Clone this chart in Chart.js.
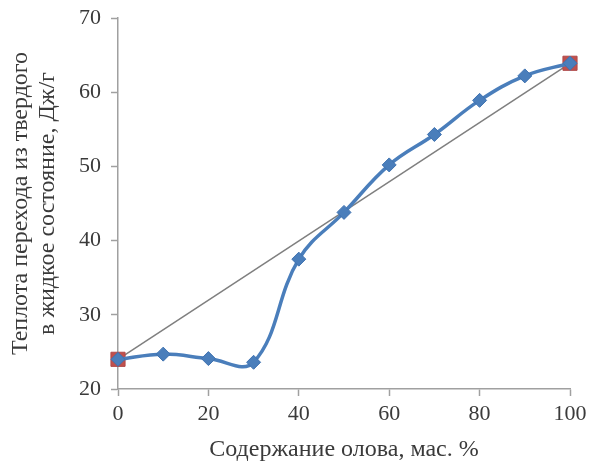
<!DOCTYPE html>
<html><head><meta charset="utf-8">
<script src="https://cdn.jsdelivr.net/npm/chart.js@4"></script>
<style>html,body{margin:0;padding:0;background:#fff}#c{display:block}</style>
</head><body>
<canvas id="c" width="589" height="462"></canvas>
<script>
const tinContent = [0, 10, 20, 30, 40, 50, 60, 70, 80, 90, 100];
const heatValues = [24.0, 24.7, 24.1, 23.6, 37.5, 43.8, 50.2, 54.3, 58.9, 62.2, 63.9];
const lineX = [0, 100];
const lineY = [24.0, 63.9];
const xTicks = [0, 20, 40, 60, 80, 100];
const yTicks = [20, 30, 40, 50, 60, 70];
const xTitle = 'Содержание олова, мас. %';
const yTitle = ['Теплота перехода из твердого', 'в жидкое состояние, Дж/г'];

const font = 'Liberation Serif';
new Chart(document.getElementById('c'), {
  type: 'line',
  data: {
    datasets: [
      {
        data: tinContent.map((x, i) => ({x, y: heatValues[i]})),
        borderColor: '#4a7ebb', backgroundColor: '#4a7ebb',
        borderWidth: 3.5, tension: 0.4, clip: false,
        pointStyle: 'rectRot', pointRadius: 7, pointBorderWidth: 1,
        pointBorderColor: '#3f72b0', pointBackgroundColor: '#4a7ebb', order: 0
      },
      {
        data: lineX.map((x, i) => ({x, y: lineY[i]})),
        borderColor: '#7f7f7f', borderWidth: 1.5, tension: 0, clip: false,
        pointStyle: 'rect', pointRadius: 10, pointBorderWidth: 1,
        pointBorderColor: '#b04a4a', pointBackgroundColor: '#c0504d', order: 1
      }
    ]
  },
  options: {
    responsive: false, animation: false,
    layout: {autoPadding: false, padding: {left: 0, right: 19, top: 18, bottom: 0}},
    plugins: {legend: {display: false}, tooltip: {enabled: false}},
    scales: {
      x: {
        type: 'linear', min: 0, max: 100,
        afterBuildTicks: s => { s.ticks = xTicks.map(v => ({value: v})); },
        afterFit: s => { s.height = 73; s.paddingLeft = 0; s.paddingRight = 0; },
        grid: {drawOnChartArea: false, color: '#a0a0a0', tickLength: 7, tickWidth: 1.5},
        border: {color: '#a0a0a0', width: 1.5},
        ticks: {color: '#3a3a3a', font: {family: font, size: 22}, padding: 5, maxRotation: 0},
        title: {display: true, text: xTitle, color: '#3a3a3a', font: {family: font, size: 24, lineHeight: 1}, padding: {top: 0, bottom: 0}}
      },
      y: {
        min: 20, max: 70,
        afterBuildTicks: s => { s.ticks = yTicks.map(v => ({value: v})); },
        afterFit: s => { s.width = 118; s.paddingTop = 0; s.paddingBottom = 0; },
        grid: {drawOnChartArea: false, color: '#a0a0a0', tickLength: 7, tickWidth: 1.5},
        border: {color: '#a0a0a0', width: 1.5},
        ticks: {color: '#3a3a3a', font: {family: font, size: 22}, padding: 10},
        title: {display: true, text: yTitle, color: '#3a3a3a', font: {family: font, size: 24, lineHeight: 1.12}, padding: {top: 7.5, bottom: 0}}
      }
    }
  }
});
</script>
</body></html>
